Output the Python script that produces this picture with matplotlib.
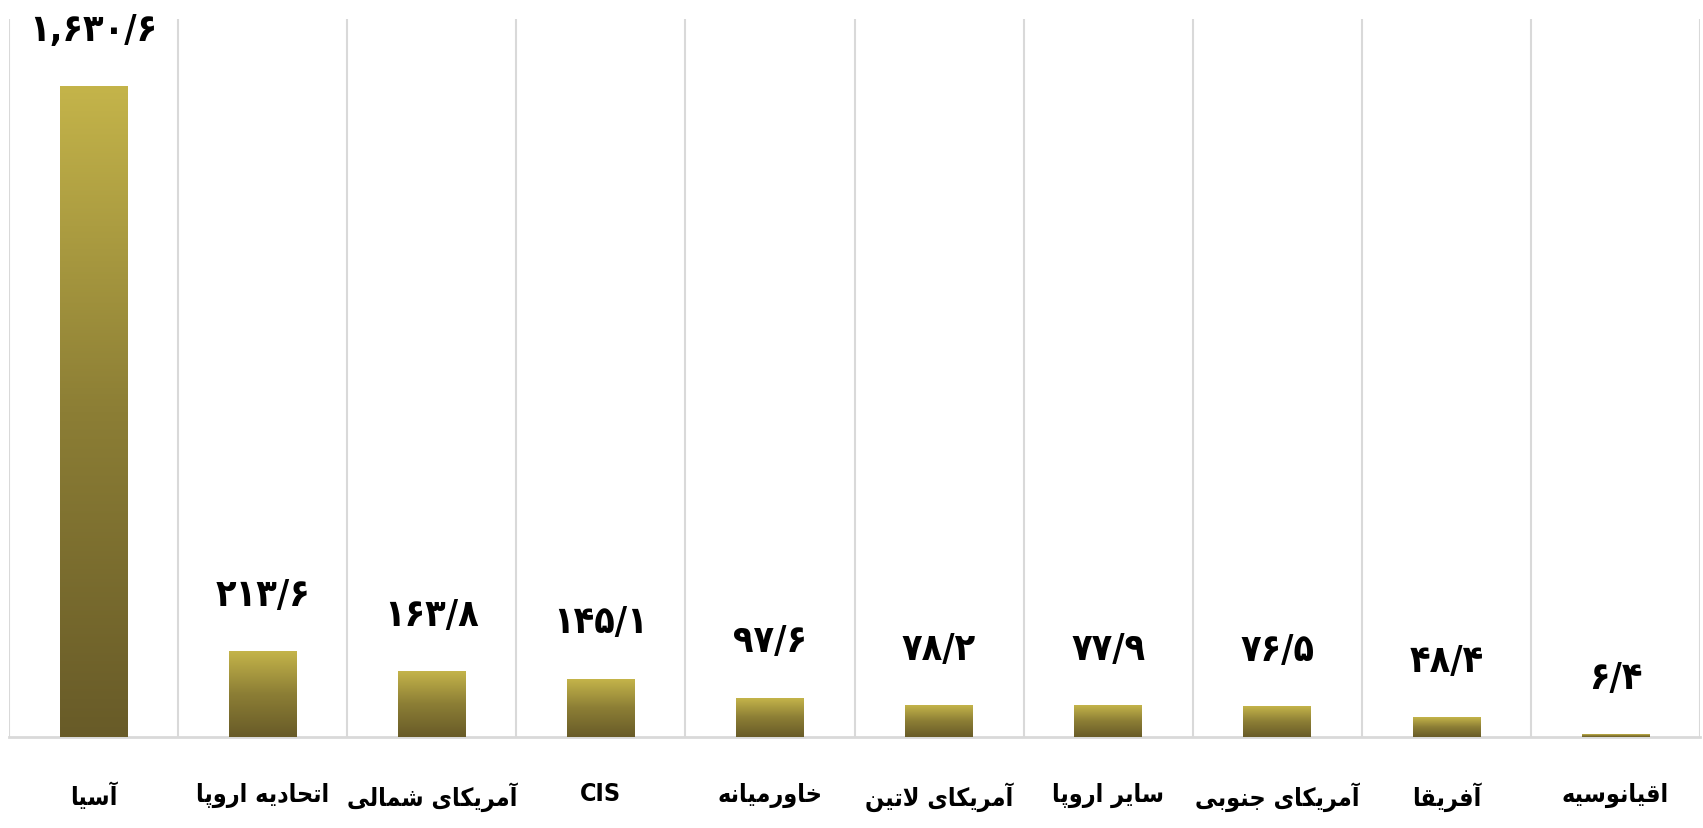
import matplotlib.pyplot as plt
import numpy as np
from matplotlib.colors import LinearSegmentedColormap

regions = ['آسیا', 'اتحادیه اروپا', 'آمریکای شمالی', 'CIS', 'خاورمیانه',
           'آمریکای لاتین', 'سایر اروپا', 'آمریکای جنوبی', 'آفریقا', 'اقیانوسیه']
values = [1630.6, 213.6, 163.8, 145.1, 97.6, 78.2, 77.9, 76.5, 48.4, 6.4]

# matplotlib has no Arabic shaping, so build the presentation forms by hand
# forms: isolated, final, initial, medial (None -> letter does not join forward)
FORMS = {
    'آ': ('\uFE81', '\uFE82', None, None),
    'ا': ('\uFE8D', '\uFE8E', None, None),
    'د': ('\uFEA9', '\uFEAA', None, None),
    'ر': ('\uFEAD', '\uFEAE', None, None),
    'و': ('\uFEED', '\uFEEE', None, None),
    '\uFEFB': ('\uFEFB', '\uFEFC', None, None),
    'ب': ('\uFE8F', '\uFE90', '\uFE91', '\uFE92'),
    'پ': ('\uFB56', '\uFB57', '\uFB58', '\uFB59'),
    'ت': ('\uFE95', '\uFE96', '\uFE97', '\uFE98'),
    'ج': ('\uFE9D', '\uFE9E', '\uFE9F', '\uFEA0'),
    'ح': ('\uFEA1', '\uFEA2', '\uFEA3', '\uFEA4'),
    'خ': ('\uFEA5', '\uFEA6', '\uFEA7', '\uFEA8'),
    'س': ('\uFEB1', '\uFEB2', '\uFEB3', '\uFEB4'),
    'ش': ('\uFEB5', '\uFEB6', '\uFEB7', '\uFEB8'),
    'ف': ('\uFED1', '\uFED2', '\uFED3', '\uFED4'),
    'ق': ('\uFED5', '\uFED6', '\uFED7', '\uFED8'),
    'ک': ('\uFB8E', '\uFB8F', '\uFB90', '\uFB91'),
    'ل': ('\uFEDD', '\uFEDE', '\uFEDF', '\uFEE0'),
    'م': ('\uFEE1', '\uFEE2', '\uFEE3', '\uFEE4'),
    'ن': ('\uFEE5', '\uFEE6', '\uFEE7', '\uFEE8'),
    'ه': ('\uFEE9', '\uFEEA', '\uFEEB', '\uFEEC'),
    'ی': ('\uFBFC', '\uFBFD', '\uFBFE', '\uFBFF'),
}


def shape(text):
    if not any(c in FORMS for c in text):
        return text
    text = text.replace('لا', '\uFEFB')
    out = []
    for i, c in enumerate(text):
        if c not in FORMS:
            out.append(c)
            continue
        prev = text[i - 1] if i > 0 else ''
        nxt = text[i + 1] if i + 1 < len(text) else ''
        join_prev = prev in FORMS and FORMS[prev][2] is not None
        join_next = FORMS[c][2] is not None and nxt in FORMS
        iso, fin, ini, med = FORMS[c]
        if join_prev and join_next:
            out.append(med)
        elif join_prev:
            out.append(fin)
        elif join_next:
            out.append(ini)
        else:
            out.append(iso)
    return ''.join(reversed(out))


def fa_num(v):
    s = '{:,.1f}'.format(v)
    return s.translate(str.maketrans('0123456789.', '۰۱۲۳۴۵۶۷۸۹/'))


cmap = LinearSegmentedColormap.from_list('gold', ['#685b28', '#8c7e35', '#c4b44a'])

fig = plt.figure(figsize=(17.03, 8.29), dpi=100)
ax = fig.add_axes([9 / 1703, 91 / 829, 1691 / 1703, 718 / 829])

x = np.arange(len(regions))
bars = ax.bar(x, values, width=0.4, color='none', zorder=3)
grad = np.linspace(0, 1, 256).reshape(-1, 1)
for b in bars:
    ax.imshow(grad, cmap=cmap, origin='lower', aspect='auto', zorder=3,
              extent=[b.get_x(), b.get_x() + b.get_width(), 0, b.get_height()])
    ax.annotate(fa_num(b.get_height()), (b.get_x() + b.get_width() / 2, b.get_height()),
                xytext=(0, 28), textcoords='offset points', ha='center', va='bottom',
                fontsize=27, fontweight='bold', family='DejaVu Sans',
                fontstretch='condensed')

ax.set_xlim(-0.5, len(regions) - 0.5)
ax.set_ylim(0, 1800)
ax.set_xticks(x)
ax.set_xticklabels([shape(r) for r in regions], fontsize=18, fontweight='bold',
                   family='DejaVu Sans', fontstretch='condensed')
ax.set_xticks(np.arange(-0.5, len(regions), 1), minor=True)
ax.tick_params(axis='x', which='both', length=0, pad=32)
ax.set_yticks([])
ax.grid(which='minor', axis='x', color='#d9d9d9', lw=1.5, zorder=0)
for s in ['top', 'left', 'right']:
    ax.spines[s].set_visible(False)
ax.spines['bottom'].set_color('#d9d9d9')
ax.spines['bottom'].set_linewidth(2)

fig.savefig('out.png', dpi=100)
